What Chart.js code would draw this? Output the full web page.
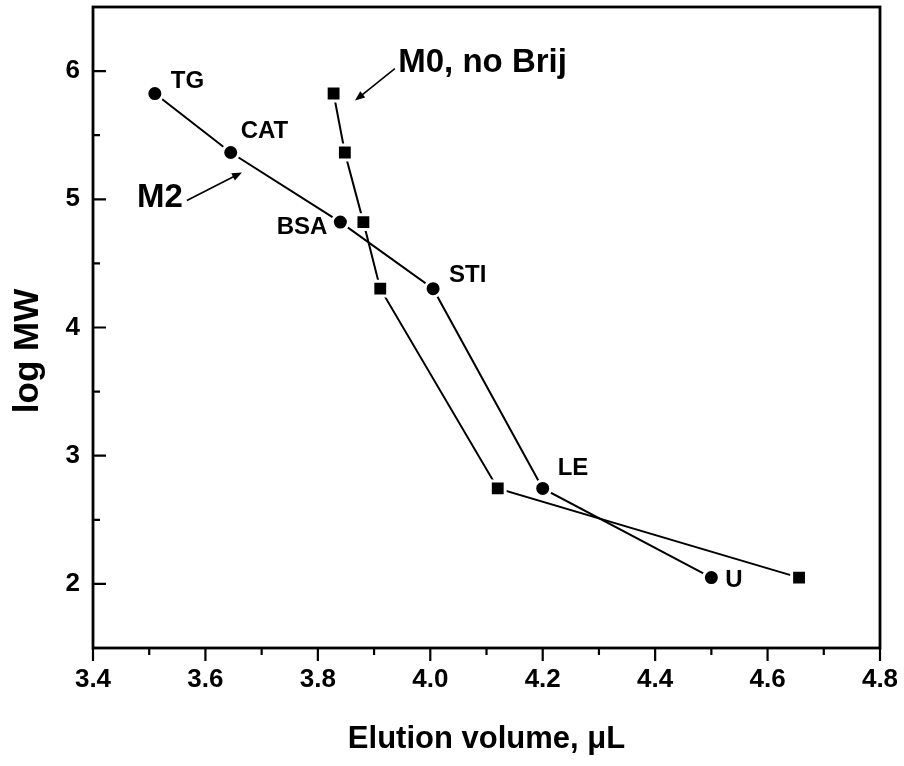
<!DOCTYPE html>
<html>
<head>
<meta charset="utf-8">
<script src="https://cdn.jsdelivr.net/npm/chart.js@4.4.1/dist/chart.umd.min.js"></script>
<style>
  html, body { margin: 0; padding: 0; background: #fff; }
  canvas { display: block; }
</style>
</head>
<body>
<canvas id="chart" width="904" height="766"></canvas>
<script>
// protein standards and their log MW
const proteins = ['TG', 'CAT', 'BSA', 'STI', 'LE', 'U'];
const logMW = [5.825, 5.365, 4.822, 4.303, 2.745, 2.049];

// elution volumes (uL)
const elutionM2 = [3.51, 3.645, 3.84, 4.005, 4.20, 4.50];
const elutionM0 = [3.828, 3.848, 3.881, 3.911, 4.12, 4.656];

// axis ticks
const xTickValues = [3.4, 3.6, 3.8, 4.0, 4.2, 4.4, 4.6, 4.8];
const xMinorValues = [3.5, 3.7, 3.9, 4.1, 4.3, 4.5, 4.7];
const yTickValues = [2, 3, 4, 5, 6];
const yMinorValues = [2.5, 3.5, 4.5, 5.5];

// label placement (pixel offsets from the point)
const labelOffsets = [
    { dx: 16, dy: -12, align: 'left' },
    { dx: 10, dy: -21, align: 'left' },
    { dx: -13, dy: 5, align: 'right' },
    { dx: 16, dy: -13, align: 'left' },
    { dx: 15, dy: -20, align: 'left' },
    { dx: 14, dy: 3, align: 'left' }
];

const FONT = "'Liberation Sans', Arial, Helvetica, sans-serif";

// series annotations, in data units
const seriesNotes = [
    { text: 'M0, no Brij', x: 3.943, y: 5.99, align: 'left', tail: [3.937, 6.02], tip: [3.866, 5.77] },
    { text: 'M2', x: 3.56, y: 4.937, align: 'right', tail: [3.567, 4.99], tip: [3.665, 5.21] }
];

function toPoints(xs) {
    return xs.map((x, i) => ({ x: x, y: logMW[i] }));
}

function drawArrow(ctx, x1, y1, x2, y2) {
    const ang = Math.atan2(y2 - y1, x2 - x1);
    const len = 10, half = 4;
    ctx.beginPath();
    ctx.moveTo(x1, y1);
    ctx.lineTo(x2 - Math.cos(ang) * len * 0.8, y2 - Math.sin(ang) * len * 0.8);
    ctx.stroke();
    ctx.beginPath();
    ctx.moveTo(x2, y2);
    ctx.lineTo(x2 - Math.cos(ang) * len - Math.sin(ang) * half, y2 - Math.sin(ang) * len + Math.cos(ang) * half);
    ctx.lineTo(x2 - Math.cos(ang) * len + Math.sin(ang) * half, y2 - Math.sin(ang) * len - Math.cos(ang) * half);
    ctx.closePath();
    ctx.fill();
}

const decorPlugin = {
    id: 'decor',
    afterDraw(chart) {
        const ctx = chart.ctx;
        const area = chart.chartArea;
        const xs = chart.scales.x;
        const ys = chart.scales.y;
        ctx.save();
        ctx.strokeStyle = '#000';
        ctx.fillStyle = '#000';

        // frame
        ctx.lineWidth = 2.8;
        ctx.strokeRect(area.left, area.top, area.right - area.left, area.bottom - area.top);

        // x ticks point out, y ticks point in
        ctx.lineWidth = 2.2;
        ctx.beginPath();
        xTickValues.forEach(v => {
            const p = xs.getPixelForValue(v);
            ctx.moveTo(p, area.bottom); ctx.lineTo(p, area.bottom + 13);
        });
        xMinorValues.forEach(v => {
            const p = xs.getPixelForValue(v);
            ctx.moveTo(p, area.bottom); ctx.lineTo(p, area.bottom + 7);
        });
        yTickValues.forEach(v => {
            const p = ys.getPixelForValue(v);
            ctx.moveTo(area.left, p); ctx.lineTo(area.left + 13, p);
        });
        yMinorValues.forEach(v => {
            const p = ys.getPixelForValue(v);
            ctx.moveTo(area.left, p); ctx.lineTo(area.left + 7, p);
        });
        ctx.stroke();

        // y axis title
        ctx.save();
        ctx.translate(28, 351);
        ctx.rotate(-Math.PI / 2);
        ctx.font = 'bold 35px ' + FONT;
        ctx.textAlign = 'center';
        ctx.textBaseline = 'middle';
        ctx.fillText('log MW', 0, 0);
        ctx.restore();

        // protein labels next to the M2 points
        ctx.font = 'bold 24px ' + FONT;
        ctx.textBaseline = 'middle';
        proteins.forEach((name, i) => {
            const off = labelOffsets[i];
            const px = xs.getPixelForValue(elutionM2[i]);
            const py = ys.getPixelForValue(logMW[i]);
            ctx.textAlign = off.align;
            ctx.fillText(name, px + off.dx, py + off.dy);
        });

        // series names with arrows
        ctx.font = 'bold 33px ' + FONT;
        ctx.textBaseline = 'alphabetic';
        ctx.lineWidth = 1.6;
        seriesNotes.forEach(n => {
            ctx.textAlign = n.align;
            ctx.fillText(n.text, xs.getPixelForValue(n.x), ys.getPixelForValue(n.y));
            drawArrow(ctx,
                xs.getPixelForValue(n.tail[0]), ys.getPixelForValue(n.tail[1]),
                xs.getPixelForValue(n.tip[0]), ys.getPixelForValue(n.tip[1]));
        });
        ctx.restore();
    }
};

const chart = new Chart(document.getElementById('chart'), {
    type: 'scatter',
    data: {
        datasets: [
            {
                label: 'M2',
                data: toPoints(elutionM2),
                showLine: true,
                borderColor: '#000',
                borderWidth: 2,
                pointStyle: 'circle',
                pointRadius: 8,
                pointHoverRadius: 8,
                pointBackgroundColor: '#000',
                pointBorderColor: '#fff',
                pointBorderWidth: 3
            },
            {
                label: 'M0, no Brij',
                data: toPoints(elutionM0),
                showLine: true,
                borderColor: '#000',
                borderWidth: 2,
                pointStyle: 'rect',
                pointRadius: 10.5,
                pointHoverRadius: 10.5,
                pointBackgroundColor: '#000',
                pointBorderColor: '#fff',
                pointBorderWidth: 3
            }
        ]
    },
    options: {
        responsive: false,
        animation: false,
        layout: { autoPadding: false, padding: { left: 0, right: 24, top: 7, bottom: 0 } },
        plugins: {
            legend: { display: false },
            tooltip: { enabled: false }
        },
        scales: {
            x: {
                type: 'linear',
                min: 3.4,
                max: 4.8,
                afterBuildTicks: scale => { scale.ticks = xTickValues.map(v => ({ value: v })); },
                afterFit: scale => {
                    scale.height = 118;
                    scale.paddingLeft = 0;
                    scale.paddingRight = 0;
                },
                grid: { display: false, drawTicks: false },
                border: { display: false },
                ticks: {
                    color: '#000',
                    padding: 19,
                    maxRotation: 0,
                    font: { family: FONT, size: 26, weight: 'bold', lineHeight: 1 },
                    callback: v => Number(v).toFixed(1)
                },
                title: {
                    display: true,
                    text: 'Elution volume, \u03bcL',
                    color: '#000',
                    padding: { top: 0, bottom: 8 },
                    font: { family: FONT, size: 31, weight: 'bold' }
                }
            },
            y: {
                type: 'linear',
                min: 1.5,
                max: 6.5,
                afterBuildTicks: scale => { scale.ticks = yTickValues.map(v => ({ value: v })); },
                afterFit: scale => {
                    scale.width = 93;
                    scale.paddingTop = 0;
                    scale.paddingBottom = 0;
                },
                grid: { display: false, drawTicks: false },
                border: { display: false },
                ticks: {
                    color: '#000',
                    padding: 13,
                    font: { family: FONT, size: 26, weight: 'bold', lineHeight: 0.5 },
                    callback: v => String(v)
                }
            }
        }
    },
    plugins: [decorPlugin]
});
</script>
</body>
</html>
